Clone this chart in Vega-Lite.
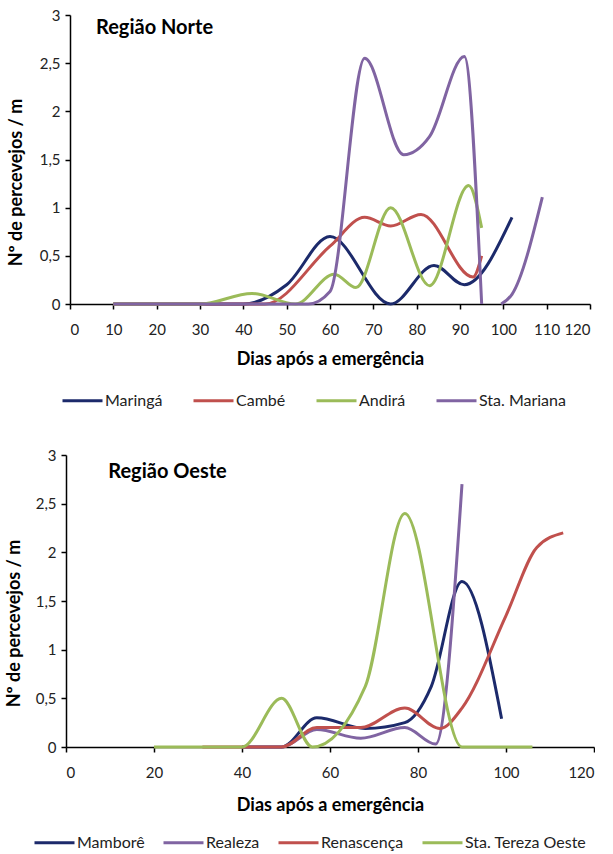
{
  "$schema": "https://vega.github.io/schema/vega-lite/v6.json",
  "background": "white",
  "padding": {"left": 5, "top": 8, "right": 0, "bottom": 0},
  "bounds": "flush",
  "center": true,
  "spacing": 151,
  "config": {
    "font": "Lato",
    "view": {"stroke": null},
    "axis": {
      "grid": false,
      "domainColor": "#000000",
      "domainWidth": 1.5,
      "tickColor": "#000000",
      "tickWidth": 1.5,
      "tickSize": 5,
      "labelFont": "Lato",
      "labelFontSize": 15,
      "labelColor": "#222222",
      "titleFont": "Lato",
      "titleFontSize": 18,
      "titleFontWeight": "bold",
      "titleColor": "#000000"
    },
    "legend": {
      "orient": "none",
      "direction": "horizontal",
      "symbolType": "stroke",
      "symbolSize": 1600,
      "symbolStrokeWidth": 3.5,
      "labelFont": "Lato",
      "labelFontSize": 16,
      "labelColor": "#222222",
      "labelOffset": 1,
      "title": null
    },
    "line": {"strokeWidth": 3, "interpolate": "monotone"}
  },
  "vconcat": [
    {
      "width": 520,
      "height": 289,
      "data": {
        "values": [
          {"local": "Maringá", "dia": 10, "valor": 0},
          {"local": "Maringá", "dia": 20, "valor": 0},
          {"local": "Maringá", "dia": 30, "valor": 0},
          {"local": "Maringá", "dia": 40, "valor": 0},
          {"local": "Maringá", "dia": 50, "valor": 0.2},
          {"local": "Maringá", "dia": 60, "valor": 0.7},
          {"local": "Maringá", "dia": 74, "valor": 0},
          {"local": "Maringá", "dia": 84, "valor": 0.4},
          {"local": "Maringá", "dia": 91, "valor": 0.2},
          {"local": "Maringá", "dia": 102, "valor": 0.9},
          {"local": "Cambé", "dia": 10, "valor": 0},
          {"local": "Cambé", "dia": 20, "valor": 0},
          {"local": "Cambé", "dia": 30, "valor": 0},
          {"local": "Cambé", "dia": 40, "valor": 0},
          {"local": "Cambé", "dia": 45, "valor": 0},
          {"local": "Cambé", "dia": 60, "valor": 0.6},
          {"local": "Cambé", "dia": 68, "valor": 0.9},
          {"local": "Cambé", "dia": 74, "valor": 0.81},
          {"local": "Cambé", "dia": 81, "valor": 0.93},
          {"local": "Cambé", "dia": 93, "valor": 0.28},
          {"local": "Cambé", "dia": 95, "valor": 0.5},
          {"local": "Andirá", "dia": 10, "valor": 0},
          {"local": "Andirá", "dia": 20, "valor": 0},
          {"local": "Andirá", "dia": 30, "valor": 0},
          {"local": "Andirá", "dia": 42, "valor": 0.11},
          {"local": "Andirá", "dia": 52, "valor": 0},
          {"local": "Andirá", "dia": 61, "valor": 0.31},
          {"local": "Andirá", "dia": 66, "valor": 0.17},
          {"local": "Andirá", "dia": 74, "valor": 1.0},
          {"local": "Andirá", "dia": 83, "valor": 0.19},
          {"local": "Andirá", "dia": 92, "valor": 1.23},
          {"local": "Andirá", "dia": 95, "valor": 0.79},
          {"local": "Sta. Mariana", "dia": 10, "valor": 0, "trecho": 1},
          {"local": "Sta. Mariana", "dia": 20, "valor": 0, "trecho": 1},
          {"local": "Sta. Mariana", "dia": 30, "valor": 0, "trecho": 1},
          {"local": "Sta. Mariana", "dia": 40, "valor": 0, "trecho": 1},
          {"local": "Sta. Mariana", "dia": 50, "valor": 0, "trecho": 1},
          {"local": "Sta. Mariana", "dia": 55, "valor": 0, "trecho": 1},
          {"local": "Sta. Mariana", "dia": 60, "valor": 0.13, "trecho": 1},
          {"local": "Sta. Mariana", "dia": 68, "valor": 2.55, "trecho": 1},
          {"local": "Sta. Mariana", "dia": 77, "valor": 1.55, "trecho": 1},
          {"local": "Sta. Mariana", "dia": 83, "valor": 1.74, "trecho": 1},
          {"local": "Sta. Mariana", "dia": 91, "valor": 2.57, "trecho": 1},
          {"local": "Sta. Mariana", "dia": 95, "valor": 0, "trecho": 1},
          {"local": "Sta. Mariana", "dia": 99.5, "valor": 0, "trecho": 2},
          {"local": "Sta. Mariana", "dia": 102, "valor": 0.1, "trecho": 2},
          {"local": "Sta. Mariana", "dia": 109, "valor": 1.11, "trecho": 2}
        ]
      },
      "layer": [
        {
          "mark": {"type": "line"},
          "encoding": {
            "x": {
              "field": "dia",
              "type": "quantitative",
              "scale": {"domain": [0, 120], "nice": false},
              "axis": {
                "values": [0, 10, 20, 30, 40, 50, 60, 70, 80, 90, 100, 110, 120],
                "labelPadding": 13,
                "title": "Dias após a emergência",
                "titlePadding": 13
              }
            },
            "y": {
              "field": "valor",
              "type": "quantitative",
              "scale": {"domain": [0, 3], "nice": false},
              "axis": {
                "values": [0, 0.5, 1, 1.5, 2, 2.5, 3],
                "labelExpr": "replace(format(datum.value, '~g'), '.', ',')",
                "labelPadding": 5,
                "title": "Nº de percevejos / m",
                "titleX": -54,
                "titleY": 167,
                "titleAlign": "center",
                "titleBaseline": "middle"
              }
            },
            "color": {
              "field": "local",
              "type": "nominal",
              "scale": {
                "domain": ["Maringá", "Cambé", "Andirá", "Sta. Mariana"],
                "range": ["#1c2a6b", "#c0504d", "#9bbb59", "#8064a2"]
              },
              "legend": {"legendX": -9, "legendY": 364, "columnPadding": 24}
            },
            "detail": {"field": "trecho", "type": "nominal"}
          }
        },
        {
          "data": {"values": [{}]},
          "mark": {"type": "text", "align": "left", "baseline": "middle", "fontSize": 20, "fontWeight": "bold", "color": "#000000"},
          "encoding": {
            "x": {"datum": 6},
            "y": {"datum": 2.87},
            "text": {"value": "Região Norte"}
          }
        }
      ]
    },
    {
      "width": 528,
      "height": 292,
      "data": {
        "values": [
          {"local": "Mamborê", "dia": 40, "valor": 0},
          {"local": "Mamborê", "dia": 49, "valor": 0},
          {"local": "Mamborê", "dia": 57, "valor": 0.3},
          {"local": "Mamborê", "dia": 68, "valor": 0.19},
          {"local": "Mamborê", "dia": 77, "valor": 0.25},
          {"local": "Mamborê", "dia": 83, "valor": 0.62},
          {"local": "Mamborê", "dia": 90, "valor": 1.7},
          {"local": "Mamborê", "dia": 99, "valor": 0.29},
          {"local": "Realeza", "dia": 40, "valor": 0},
          {"local": "Realeza", "dia": 49, "valor": 0},
          {"local": "Realeza", "dia": 57, "valor": 0.18},
          {"local": "Realeza", "dia": 67, "valor": 0.09},
          {"local": "Realeza", "dia": 77, "valor": 0.2},
          {"local": "Realeza", "dia": 84, "valor": 0.03},
          {"local": "Realeza", "dia": 90, "valor": 2.7},
          {"local": "Renascença", "dia": 31, "valor": 0},
          {"local": "Renascença", "dia": 40, "valor": 0},
          {"local": "Renascença", "dia": 49, "valor": 0},
          {"local": "Renascença", "dia": 57, "valor": 0.2},
          {"local": "Renascença", "dia": 67, "valor": 0.2},
          {"local": "Renascença", "dia": 77, "valor": 0.4},
          {"local": "Renascença", "dia": 85, "valor": 0.19},
          {"local": "Renascença", "dia": 90, "valor": 0.4},
          {"local": "Renascença", "dia": 100, "valor": 1.35},
          {"local": "Renascença", "dia": 107, "valor": 2.05},
          {"local": "Renascença", "dia": 113, "valor": 2.2},
          {"local": "Sta. Tereza Oeste", "dia": 20, "valor": 0},
          {"local": "Sta. Tereza Oeste", "dia": 30, "valor": 0},
          {"local": "Sta. Tereza Oeste", "dia": 40, "valor": 0},
          {"local": "Sta. Tereza Oeste", "dia": 49, "valor": 0.5},
          {"local": "Sta. Tereza Oeste", "dia": 56, "valor": 0},
          {"local": "Sta. Tereza Oeste", "dia": 68, "valor": 0.62},
          {"local": "Sta. Tereza Oeste", "dia": 77, "valor": 2.4},
          {"local": "Sta. Tereza Oeste", "dia": 90, "valor": 0},
          {"local": "Sta. Tereza Oeste", "dia": 99, "valor": 0},
          {"local": "Sta. Tereza Oeste", "dia": 106, "valor": 0}
        ]
      },
      "layer": [
        {
          "mark": {"type": "line"},
          "encoding": {
            "x": {
              "field": "dia",
              "type": "quantitative",
              "scale": {"domain": [0, 120], "nice": false},
              "axis": {
                "values": [0, 20, 40, 60, 80, 100, 120],
                "labelPadding": 13,
                "title": "Dias após a emergência",
                "titlePadding": 16
              }
            },
            "y": {
              "field": "valor",
              "type": "quantitative",
              "scale": {"domain": [0, 3], "nice": false},
              "axis": {
                "values": [0, 0.5, 1, 1.5, 2, 2.5, 3],
                "labelExpr": "replace(format(datum.value, '~g'), '.', ',')",
                "labelPadding": 5,
                "title": "Nº de percevejos / m",
                "titleX": -52,
                "titleY": 168,
                "titleAlign": "center",
                "titleBaseline": "middle"
              }
            },
            "color": {
              "field": "local",
              "type": "nominal",
              "scale": {
                "domain": ["Mamborê", "Realeza", "Renascença", "Sta. Tereza Oeste"],
                "range": ["#1c2a6b", "#8064a2", "#c0504d", "#9bbb59"]
              },
              "legend": {"legendX": -33, "legendY": 366, "columnPadding": 12}
            }
          }
        },
        {
          "data": {"values": [{}]},
          "mark": {"type": "text", "align": "left", "baseline": "middle", "fontSize": 20, "fontWeight": "bold", "color": "#000000"},
          "encoding": {
            "x": {"datum": 9.6},
            "y": {"datum": 2.83},
            "text": {"value": "Região Oeste"}
          }
        }
      ]
    }
  ],
  "resolve": {"scale": {"color": "independent"}, "legend": {"color": "independent"}}
}
